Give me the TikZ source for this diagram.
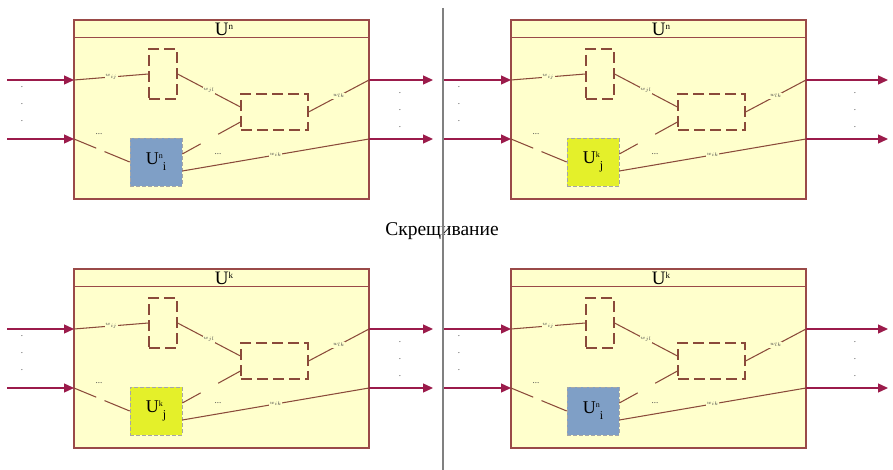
\documentclass[tikz,border=0pt]{standalone}
\usepackage{fontspec}
\setmainfont{Liberation Serif}
\usetikzlibrary{arrows.meta,calc}
\definecolor{boxfill}{HTML}{FFFFCC}
\definecolor{boxline}{HTML}{9A4A48}
\definecolor{arrowcol}{HTML}{9B1B4B}
\definecolor{conncol}{HTML}{8A4A3A}
\definecolor{bluefill}{HTML}{7F9FC6}
\definecolor{yellowfill}{HTML}{E4F02A}
\tikzset{
  outerbox/.style={draw=boxline, fill=boxfill, line width=1.1pt, minimum width=295pt, minimum height=179pt, inner sep=0pt},
  dashbox/.style={draw=conncol, line width=1.15pt, dash pattern=on 11pt off 5pt, inner sep=0pt},
  innerbox/.style={draw=gray!70, line width=0.6pt, dash pattern=on 4pt off 2pt, minimum width=52pt, minimum height=48pt, inner sep=0pt, font=\fontsize{18}{18}\selectfont},
  conn/.style={draw=conncol, line width=1.05pt},
  wlab/.style={fill=boxfill, inner sep=0.6pt, font=\fontsize{4}{4}\selectfont, text=black!75},
  dotlab/.style={inner sep=0pt, font=\fontsize{9}{9}\selectfont, text=black!75},
  flow/.style={draw=arrowcol, line width=1.3pt, -{Triangle[length=10pt,width=9pt]}},
  titlelab/.style={inner sep=0pt, font=\fontsize{19}{19}\selectfont},
}
\newcommand\supsub[2]{U\raisebox{6pt}{\fontsize{8}{8}\selectfont #1}\raisebox{-6pt}{\fontsize{12}{12}\selectfont #2}}
\newcommand\drawpanel[7]{%
\begin{scope}[shift={(#2,#3)}]
  \node[outerbox] (#1box) at (221.5,109.5) {};
  \draw[boxline, line width=1.1pt] ($(#1box.north west)+(0,18)$) -- ($(#1box.north east)+(0,18)$);
  \node[titlelab] (#1title) at (224,29) {U\raisebox{6pt}{\fontsize{9}{9}\selectfont #4}};
  \node[dashbox, minimum width=28pt, minimum height=50pt] (#1small) at (163,74) {};
  \node[dashbox, minimum width=67pt, minimum height=36pt] (#1big) at (274.5,112) {};
  \node[innerbox, fill=#6] (#1inner) at (156,162) {#5};
  \coordinate (#1in1) at (74,80);
  \coordinate (#1in2) at (74,139);
  \coordinate (#1out1) at (369,80);
  \coordinate (#1out2) at (369,139);
  \coordinate (#1s1) at (7,80);
  \coordinate (#1s2) at (7,139);
  \coordinate (#1e1) at (#7,80);
  \coordinate (#1e2) at (#7,139);
  \draw[flow] (#1s1) -- (#1in1);
  \draw[flow] (#1s2) -- (#1in2);
  \draw[flow] (#1out1) -- (#1e1);
  \draw[flow] (#1out2) -- (#1e2);
  \draw[conn] (#1in1) -- node[wlab] {$w_{ij}$} (#1small.west);
  \draw[conn] (#1small.east) -- node[wlab] {$w_{jl}$} ($(#1big.west)+(0,-5)$);
  \draw[conn] ($(#1big.east)$) -- node[wlab] {$w_{lk}$} (#1out1);
  \draw[conn] ($(#1inner.east)+(0,9)$) -- node[wlab] {$w_{ik}$} (#1out2);
  \draw[conn, dash pattern=on 24pt off 9pt on 40pt] (#1in2) -- (#1inner.west);
  \draw[conn, dash pattern=on 21pt off 20pt on 40pt] ($(#1inner.east)+(0,-8)$) -- ($(#1big.west)+(0,10)$);
  \node[dotlab] (#1d1) at (99,134) {...};
  \node[dotlab] (#1d2) at (218,154) {...};
  \node[dotlab, align=center] (#1ld) at (22,104) {.\\[8pt].\\[8pt].};
  \node[dotlab, align=center] (#1rd) at (#7-33,110) {.\\[8pt].\\[8pt].};
\end{scope}}
\begin{document}
\begin{tikzpicture}[x=1pt,y=-1pt]
\useasboundingbox (0,0) rectangle (893,470);
\drawpanel{a}{0}{0}{n}{\supsub{n}{i}}{bluefill}{433}
\drawpanel{b}{437}{0}{n}{\supsub{k}{j}}{yellowfill}{451}
\drawpanel{c}{0}{249}{k}{\supsub{k}{j}}{yellowfill}{433}
\drawpanel{d}{437}{249}{k}{\supsub{n}{i}}{bluefill}{451}
\node[font=\fontsize{19.5}{19.5}\selectfont, inner sep=0pt] (cross) at (442,231) {Скрещивание};
\coordinate (septop) at (443,8);
\coordinate (sepbot) at (443,470);
\draw[gray, line width=1.8pt] (septop) -- (sepbot);
\end{tikzpicture}
\end{document}
